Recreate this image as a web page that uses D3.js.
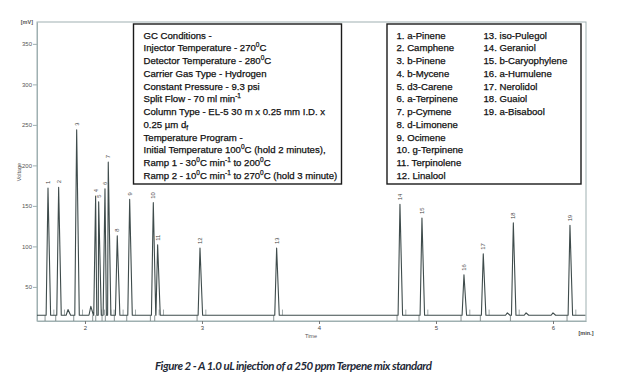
<!DOCTYPE html>
<html>
<head>
<meta charset="utf-8">
<script src="https://cdn.jsdelivr.net/npm/d3@7"></script>
<style>
  body { margin: 0; background: #fff; }
  svg { display: block; }
</style>
</head>
<body>
<svg id="chart" width="620" height="381"></svg>
<script>
// peaks (time in min, height in mV)
var peakNumbers = [1, 2, 3, 4, 5, 6, 7, 8, 9, 10, 11, 12, 13, 14, 15, 16, 17, 18, 19];
var peakTimes = [1.684, 1.775, 1.929, 2.091, 2.117, 2.171, 2.199, 2.276, 2.382, 2.584, 2.621, 2.983, 3.638, 4.692, 4.880, 5.239, 5.404, 5.661, 6.145];
var peakHeights = [172, 173, 244, 162, 155, 171, 204, 113, 158, 154, 102, 98, 98, 152, 135, 65, 91, 129, 126];

// small unlabelled bumps on the baseline
var minorTimes = [1.855, 2.05, 5.61, 5.77, 6.0];
var minorHeights = [22, 26, 18, 18, 18];

var baselineLevel = 15;
var yTicks = [50, 100, 150, 200, 250, 300, 350];
var xTicks = [2, 3, 4, 5, 6];

var compoundsLeft = ["1. a-Pinene", "2. Camphene", "3. b-Pinene", "4. b-Mycene", "5. d3-Carene", "6. a-Terpinene",
  "7. p-Cymene", "8. d-Limonene", "9. Ocimene", "10. g-Terpinene", "11. Terpinolene", "12. Linalool"];
var compoundsRight = ["13. iso-Pulegol", "14. Geraniol", "15. b-Caryophylene", "16. a-Humulene", "17. Nerolidol",
  "18. Guaiol", "19. a-Bisabool"];

// {^..} superscript, {_..} subscript
var conditions = [
  "GC Conditions -",
  "Injector Temperature - 270{^0}C",
  "Detector Temperature - 280{^0}C",
  "Carrier Gas Type - Hydrogen",
  "Constant Pressure - 9.3 psi",
  "Split Flow - 70 ml min{^-1}",
  "Column Type - EL-5 30 m x 0.25 mm I.D. x",
  "0.25 \u00b5m d{_f}",
  "Temperature Program -",
  "Initial Temperature 100{^0}C (hold 2 minutes),",
  "Ramp 1 - 30{^0}C min{^-1} to 200{^0}C",
  "Ramp 2 - 10{^0}C min{^-1} to 270{^0}C (hold 3 minute)"
];

var caption = "Figure 2 - A 1.0 uL injection of a 250 ppm Terpene mix standard";

(function() {
  var left = 37, right = 586, top = 22, bottom = 321;
  var frameColor = "#9fb0b1",
    traceColor = "#3f4c4c";

  var svg = d3.select("#chart");

  var x = d3.scaleLinear()
    .domain([1.59, 6.282])
    .range([left, right]);

  var y = d3.scaleLinear()
    .domain([7.9, 377])
    .range([bottom, top]);

  // frame
  svg.append("rect")
    .attr("x", left)
    .attr("y", top)
    .attr("width", right - left)
    .attr("height", bottom - top)
    .attr("fill", "none")
    .attr("stroke", frameColor)
    .attr("stroke-width", 1);

  // y axis
  var yAxis = svg.append("g")
    .attr("transform", `translate(${left},0)`)
    .call(d3.axisLeft(y).tickValues(yTicks).tickSize(4).tickSizeOuter(0).tickPadding(1));
  yAxis.select(".domain").attr("stroke", frameColor);
  yAxis.selectAll(".tick line").attr("stroke", frameColor);
  yAxis.selectAll(".tick text")
    .attr("fill", "#555")
    .style("font", "6px 'Liberation Sans', Arial, sans-serif");

  // x axis
  var xAxis = svg.append("g")
    .attr("transform", `translate(0,${bottom})`)
    .call(d3.axisBottom(x).tickValues(xTicks).tickFormat(d3.format("d")).tickSize(3).tickSizeOuter(0).tickPadding(2));
  xAxis.select(".domain").attr("stroke", frameColor);
  xAxis.selectAll(".tick line").attr("stroke", "#777");
  xAxis.selectAll(".tick text")
    .attr("fill", "#444")
    .style("font", "6px 'Liberation Sans', Arial, sans-serif");

  var smallFont = "5.5px 'Liberation Sans', Arial, sans-serif";

  svg.append("text")
    .attr("x", 33)
    .attr("y", 24)
    .attr("text-anchor", "end")
    .attr("fill", "#555")
    .style("font", "bold " + smallFont)
    .text("[mV]");

  svg.append("text")
    .attr("transform", "translate(21,172) rotate(-90)")
    .attr("text-anchor", "middle")
    .attr("fill", "#555")
    .style("font", smallFont)
    .text("Voltage");

  svg.append("text")
    .attr("x", 311)
    .attr("y", 338)
    .attr("text-anchor", "middle")
    .attr("fill", "#555")
    .style("font", smallFont)
    .text("Time");

  svg.append("text")
    .attr("x", 586)
    .attr("y", 335)
    .attr("text-anchor", "middle")
    .attr("fill", "#444")
    .style("font", "bold " + smallFont)
    .text("[min.]");

  // build the trace from the peak list
  var peaks = peakTimes.map((t, i) => ({ id: peakNumbers[i], time: t, height: peakHeights[i] }));
  var minors = minorTimes.map((t, i) => ({ time: t, height: minorHeights[i] }));
  var halfWidth = 0.016;

  var trace = [[x.domain()[0], baselineLevel], [x.domain()[1] - 0.005, baselineLevel]];
  peaks.concat(minors).forEach((p) => {
    trace.push([p.time - halfWidth, baselineLevel]);
    trace.push([p.time, p.height]);
    trace.push([p.time + halfWidth * 1.4, baselineLevel]);
  });
  trace.sort((a, b) => a[0] - b[0]);

  // integration marks: drop lines at peak start, short ticks after the peak
  svg.selectAll("line.drop")
    .data(peaks)
    .enter()
    .append("line")
    .attr("class", "drop")
    .attr("x1", (d) => x(d.time - 0.025))
    .attr("x2", (d) => x(d.time - 0.025))
    .attr("y1", y(baselineLevel))
    .attr("y2", bottom)
    .attr("stroke", "#6d7a7a")
    .attr("stroke-width", 0.8);

  svg.selectAll("line.mark")
    .data(peaks)
    .enter()
    .append("line")
    .attr("class", "mark")
    .attr("x1", (d) => x(d.time + 0.05))
    .attr("x2", (d) => x(d.time + 0.05))
    .attr("y1", y(baselineLevel))
    .attr("y2", y(baselineLevel + 7))
    .attr("stroke", "#8a9696")
    .attr("stroke-width", 0.8);

  svg.append("path")
    .datum(trace)
    .attr("fill", "none")
    .attr("stroke", traceColor)
    .attr("stroke-width", 1.1)
    .attr("stroke-linejoin", "round")
    .attr("d", d3.line().x((d) => x(d[0])).y((d) => y(d[1])));

  // peak numbers, rotated like the integrator prints them
  svg.selectAll("text.peak")
    .data(peaks)
    .enter()
    .append("text")
    .attr("class", "peak")
    .attr("transform", (d) => `translate(${x(d.time) + 2},${y(d.height) - 4}) rotate(-90)`)
    .attr("fill", "#444")
    .style("font", "5.8px 'Liberation Sans', Arial, sans-serif")
    .text((d) => d.id);

  // text boxes
  var boxFont = "9.6px 'Liberation Sans', Arial, sans-serif",
    lineStep = 12.75,
    firstLine = 38.5;

  svg.append("rect")
    .attr("x", 133.5).attr("y", 24)
    .attr("width", 208).attr("height", 160)
    .attr("fill", "#fff")
    .attr("stroke", "#1a1a1a")
    .attr("stroke-width", 1.4);

  svg.append("rect")
    .attr("x", 387).attr("y", 24)
    .attr("width", 194).attr("height", 160)
    .attr("fill", "#fff")
    .attr("stroke", "#1a1a1a")
    .attr("stroke-width", 1.4);

  var condText = svg.append("g")
    .attr("fill", "#111")
    .attr("stroke", "#111")
    .attr("stroke-width", 0.25)
    .style("font", boxFont);

  conditions.forEach((line, i) => {
    var t = condText.append("text")
      .attr("x", 143.5)
      .attr("y", firstLine + i * lineStep);
    var parts = line.split(/(\{[\^_][^}]*\})/).filter((s) => s.length);
    var shift = 0;
    parts.forEach((s) => {
      var m = s.match(/^\{([\^_])([^}]*)\}$/);
      var span = t.append("tspan");
      if (m) {
        var target = m[1] === "^" ? -3.8 : 2;
        span.attr("dy", target - shift).style("font-size", "6.5px").text(m[2]);
        shift = target;
      } else {
        span.attr("dy", -shift).text(s);
        shift = 0;
      }
    });
  });

  var listText = svg.append("g")
    .attr("fill", "#111")
    .attr("stroke", "#111")
    .attr("stroke-width", 0.25)
    .style("font", boxFont);

  listText.selectAll("text.left")
    .data(compoundsLeft)
    .enter()
    .append("text")
    .attr("class", "left")
    .attr("x", 396.5)
    .attr("y", (d, i) => firstLine + i * lineStep)
    .text((d) => d);

  listText.selectAll("text.right")
    .data(compoundsRight)
    .enter()
    .append("text")
    .attr("class", "right")
    .attr("x", 483.5)
    .attr("y", (d, i) => firstLine + i * lineStep)
    .text((d) => d);

  // caption
  svg.append("text")
    .attr("x", 155)
    .attr("y", 370)
    .attr("textLength", 277)
    .attr("fill", "#1f2a38")
    .style("font", "italic bold 11.5px Lato, 'Open Sans', sans-serif")
    .text(caption);
})();
</script>
</body>
</html>
